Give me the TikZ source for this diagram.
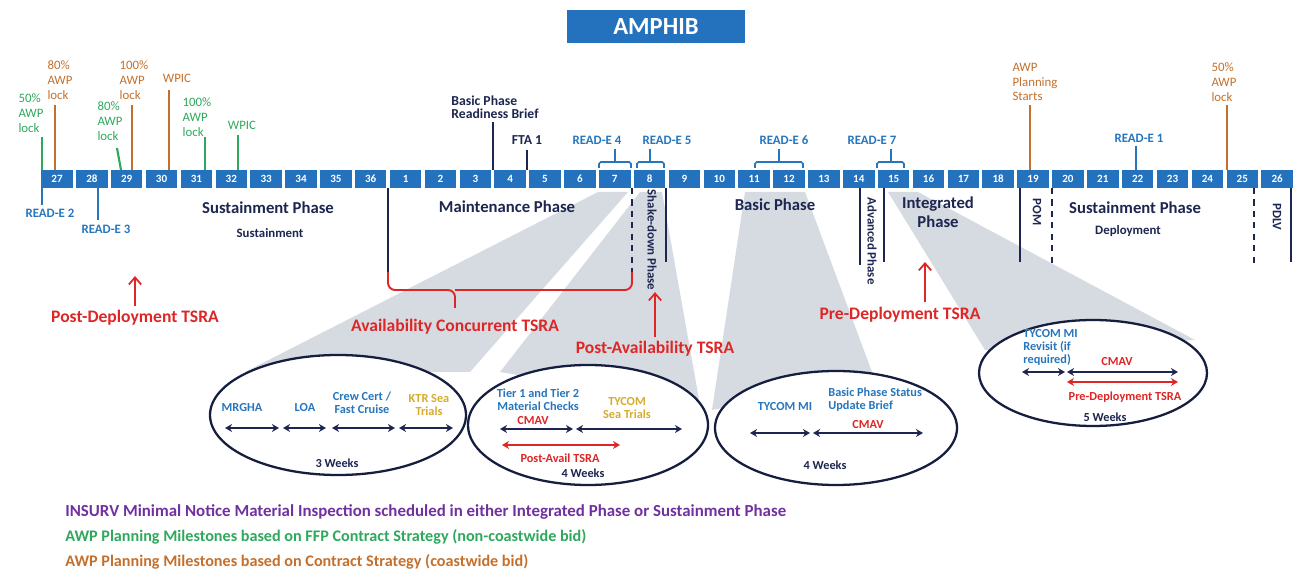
\documentclass[tikz,border=0pt]{standalone}
\usepackage{fontspec}
\setmainfont{Carlito}
\usetikzlibrary{arrows.meta}

\definecolor{boxblue}{RGB}{36,114,189}
\definecolor{navy}{RGB}{28,38,80}
\definecolor{tsrared}{RGB}{222,38,38}
\definecolor{awpgreen}{RGB}{46,168,92}
\definecolor{awporange}{RGB}{196,112,44}
\definecolor{ktrgold}{RGB}{212,172,48}
\definecolor{insurv}{RGB}{112,48,160}
\definecolor{readblue}{RGB}{38,118,190}
\definecolor{wedgegray}{RGB}{214,219,226}

\tikzset{
  numbox/.style = {fill = boxblue, text = white, font = \bfseries\fontsize{6.3}{7}\selectfont,
    minimum width = 0.63cm, minimum height = 0.36cm, inner sep = 0pt},
  greentxt/.style = {text = awpgreen, font = \fontsize{7.3}{8.5}\selectfont, align = left, inner sep = 0pt},
  orangetxt/.style = {text = awporange, font = \fontsize{7.3}{8.5}\selectfont, align = left, inner sep = 0pt},
  readtxt/.style = {text = readblue, font = \bfseries\fontsize{7.3}{8.5}\selectfont, inner sep = 0pt},
  navytxt/.style = {text = navy, font = \bfseries\fontsize{7.8}{7.6}\selectfont, align = left, inner sep = 0pt},
  phasetxt/.style = {text = navy, font = \bfseries\fontsize{9.5}{11}\selectfont, align = center, inner sep = 0pt},
  smalltxt/.style = {text = navy, font = \bfseries\fontsize{7.3}{8.5}\selectfont, align = center, inner sep = 0pt},
  redtxt/.style = {text = tsrared, font = \bfseries\fontsize{10}{12}\selectfont, inner sep = 0pt},
  intxt/.style = {font = \bfseries\fontsize{7}{7.4}\selectfont, align = center, inner sep = 0pt},
  legendtxt/.style = {font = \bfseries\fontsize{9.2}{11}\selectfont, anchor = west, inner sep = 0pt},
  phaseline/.style = {navy, line width = 1.2pt},
  phasedash/.style = {navy, line width = 1.2pt, dash pattern = on 3.5pt off 3pt},
  redarrow/.style = {tsrared, line width = 1pt, -{Straight Barb[length = 4pt, width = 7pt]}},
  spanarrow/.style = {navy, line width = 1.3pt, {Stealth[length = 4pt, width = 4.5pt]}-{Stealth[length = 4pt, width = 4.5pt]}},
  redspan/.style = {tsrared, line width = 1.3pt, {Stealth[length = 4pt, width = 4.5pt]}-{Stealth[length = 4pt, width = 4.5pt]}},
  bubble/.style = {draw = navy!80!black, line width = 1.3pt, fill = white}
}

\begin{document}
\begin{tikzpicture} [x = 0.02cm, y = -0.02cm]
\useasboundingbox (0, 0) rectangle (1294, 573);
\coordinate (bartop) at (0, 170);
\coordinate (barbot) at (0, 188);

% grey fans down to the bubbles
\fill[wedgegray] (598, 192) -- (628, 192) -- (470, 372) -- (245, 372) -- cycle;
\fill[wedgegray] (640, 192) -- (662, 192) -- (700, 405) -- (500, 372) -- cycle;
\fill[wedgegray] (745, 192) -- (805, 192) -- (875, 380) -- (712, 410) -- cycle;
\fill[wedgegray] (888, 192) -- (918, 192) -- (1195, 340) -- (985, 350) -- cycle;

% title
\fill[boxblue] (567, 10) rectangle (745, 43);
\node[text = white, font = \bfseries\fontsize{14}{16}\selectfont] (title) at (656, 27) {AMPHIB};

% month boxes
\foreach \n [count = \i from 0] in {27, 28, ..., 36, 1, 2, ..., 26}
  \node[numbox] (b\n) at (57 + \i * 34.86, 179) {\n};

% AWP milestones above the bar
\node[greentxt] (g50) at (31, 113) {50\%\\AWP\\lock};
\coordinate (tg50) at (42, 137);
\draw[awpgreen, line width = 1.2pt] (tg50) -- (tg50 |- bartop);
\node[orangetxt] (o80) at (60, 80) {80\%\\AWP\\lock};
\coordinate (to80) at (55, 105);
\draw[awporange, line width = 1.2pt] (to80) -- (to80 |- bartop);
\node[greentxt] (g80) at (110, 121) {80\%\\AWP\\lock};
\coordinate (tg80) at (117, 148);
\draw[awpgreen, line width = 1.2pt] (tg80) -- (121, 170);
\node[orangetxt] (o100) at (134, 80) {100\%\\AWP\\lock};
\coordinate (to100) at (132, 105);
\draw[awporange, line width = 1.2pt] (to100) -- (to100 |- bartop);
\node[orangetxt] (owpic) at (177, 78) {WPIC};
\coordinate (towpic) at (169, 90);
\draw[awporange, line width = 1.2pt] (towpic) -- (towpic |- bartop);
\node[greentxt] (g100) at (197, 117) {100\%\\AWP\\lock};
\coordinate (tg100) at (205, 137);
\draw[awpgreen, line width = 1.2pt] (tg100) -- (tg100 |- bartop);
\node[greentxt] (gwpic) at (242, 125) {WPIC};
\coordinate (tgwpic) at (238, 135);
\draw[awpgreen, line width = 1.2pt] (tgwpic) -- (tgwpic |- bartop);
\node[orangetxt] (oplan) at (1035, 82) {AWP\\Planning\\Starts};
\coordinate (toplan) at (1030, 105);
\draw[awporange, line width = 1.2pt] (toplan) -- (toplan |- bartop);
\node[orangetxt] (o50) at (1224, 82) {50\%\\AWP\\lock};
\coordinate (to50) at (1227, 105);
\draw[awporange, line width = 1.2pt] (to50) -- (to50 |- bartop);

% briefs and READ-E events
\node[navytxt, anchor = west] (brief) at (451, 107) {Basic Phase\\Readiness Brief};
\coordinate (tbrief) at (493, 122);
\draw[navy, line width = 1.2pt] (tbrief) -- (tbrief |- bartop);
\node[navytxt] (fta) at (527, 140) {FTA 1};
\draw[navy, line width = 1.2pt] (fta.south) ++(0, 5) -- (fta.south |- bartop);
\node[readtxt] (re4) at (597, 140) {READ-E 4};
\draw[readblue, line width = 0.9pt, rounded corners = 1pt] (599, 168) |- (631, 162) -- (631, 168);
\draw[readblue, line width = 0.9pt] (615, 162) -- (615, 149);
\node[readtxt] (re5) at (667, 140) {READ-E 5};
\draw[readblue, line width = 0.9pt, rounded corners = 1pt] (637, 168) |- (664, 162) -- (664, 168);
\draw[readblue, line width = 0.9pt] (650, 162) -- (650, 149);
\node[readtxt] (re6) at (784, 140) {READ-E 6};
\draw[readblue, line width = 0.9pt, rounded corners = 1pt] (755, 168) |- (803, 162) -- (803, 168);
\draw[readblue, line width = 0.9pt] (779, 162) -- (779, 149);
\node[readtxt] (re7) at (872, 140) {READ-E 7};
\draw[readblue, line width = 0.9pt, rounded corners = 1pt] (877, 168) |- (904, 162) -- (904, 168);
\draw[readblue, line width = 0.9pt] (891, 162) -- (891, 149);
\node[readtxt] (re1) at (1139, 138) {READ-E 1};
\draw[readblue, line width = 1.2pt] (1136, 146) -- (1136, 170);
\node[readtxt] (re2) at (50, 213) {READ-E 2};
\draw[readblue, line width = 1.2pt] (42, 170) -- (42, 205);
\node[readtxt] (re3) at (106, 229) {READ-E 3};
\draw[readblue, line width = 1.2pt] (98, 188) -- (98, 220);

% phases under the bar
\node[phasetxt] (sust) at (268, 208) {Sustainment Phase};
\node[smalltxt] (sustb) at (270, 233) {Sustainment};
\node[phasetxt] (maint) at (507, 207) {Maintenance Phase};
\node[phasetxt] (basic) at (775, 205) {Basic Phase};
\node[phasetxt] (integ) at (938, 212) {Integrated\\Phase};
\node[phasetxt] (sustd) at (1135, 208) {Sustainment Phase};
\node[smalltxt] (deploy) at (1128, 231) {Deployment};
\node[smalltxt, rotate = -90] (shake) at (652, 240) {Shake-down Phase};
\node[smalltxt, rotate = -90] (adv) at (872, 241) {Advanced Phase};
\node[smalltxt, rotate = -90] (pom) at (1037, 212) {POM};
\node[smalltxt, rotate = -90] (pdlv) at (1277, 217) {PDLV};
\draw[phaseline] (388, 188) -- (388, 272);
\draw[phasedash] (632, 188) -- (632, 272);
\draw[phaseline] (666, 188) -- (666, 262);
\draw[phaseline] (860, 188) -- (860, 265);
\draw[phaseline] (884, 188) -- (884, 262);
\draw[phaseline] (1020, 188) -- (1020, 262);
\draw[phasedash] (1052, 188) -- (1052, 265);
\draw[phasedash] (1254, 188) -- (1254, 265);
\draw[phaseline] (1291, 188) -- (1291, 262);

% TSRA callouts
\draw[tsrared, line width = 1.1pt, rounded corners = 4pt] (388, 272) |- (455, 290) -- (455, 308);
\draw[tsrared, line width = 1.1pt, rounded corners = 4pt] (455, 290) -| (632, 272);
\node[redtxt] (acon) at (455, 327) {Availability Concurrent TSRA};
\node[redtxt] (pdep) at (135, 318) {Post-Deployment TSRA};
\draw[redarrow] (pdep.north) ++(0, -4) -- ++(0, -30);
\node[redtxt] (pavl) at (655, 349) {Post-Availability TSRA};
\draw[redarrow] (pavl.north) ++(0, -4) -- ++(0, -45);
\node[redtxt] (prdep) at (900, 315) {Pre-Deployment TSRA};
\draw[redarrow] (925, 302) -- (925, 262);

% bubble 1: 3 weeks
\draw[bubble] (338, 415) ellipse [x radius = 128, y radius = 60];
\node[intxt, text = readblue] (mrgha) at (242, 408) {MRGHA};
\node[intxt, text = readblue] (loa) at (305, 408) {LOA};
\node[intxt, text = readblue] (crew) at (362, 403) {Crew Cert /\\Fast Cruise};
\node[intxt, text = ktrgold] (ktr) at (429, 405) {KTR Sea\\Trials};
\draw[spanarrow] (225, 428) -- (279, 428);
\draw[spanarrow] (283, 428) -- (326, 428);
\draw[spanarrow] (332, 428) -- (395, 428);
\draw[spanarrow] (399, 428) -- (453, 428);
\node[intxt, text = navy] (w3) at (337, 463) {3 Weeks};

% bubble 2: 4 weeks
\draw[bubble] (588, 425) ellipse [x radius = 120, y radius = 60];
\node[intxt, text = readblue] (tier) at (538, 400) {Tier 1 and Tier 2\\Material Checks};
\node[intxt, text = tsrared] (cmav2) at (533, 421) {CMAV};
\node[intxt, text = ktrgold] (tsea) at (627, 408) {TYCOM\\Sea Trials};
\draw[spanarrow] (500, 429) -- (573, 429);
\draw[spanarrow] (576, 429) -- (682, 429);
\draw[redspan] (502, 445) -- (620, 445);
\node[intxt, text = tsrared] (pavail) at (560, 458) {Post-Avail TSRA};
\node[intxt, text = navy] (w4a) at (583, 473) {4 Weeks};

% bubble 3: 4 weeks
\draw[bubble] (836, 428) ellipse [x radius = 121, y radius = 57];
\node[intxt, text = readblue] (tmi) at (785, 407) {TYCOM MI};
\node[intxt, text = readblue, anchor = west, align = left] (bstat) at (828, 400) {Basic Phase Status\\Update Brief};
\node[intxt, text = tsrared] (cmav3) at (868, 425) {CMAV};
\draw[spanarrow] (750, 433) -- (810, 433);
\draw[spanarrow] (813, 433) -- (923, 433);
\node[intxt, text = navy] (w4b) at (825, 465) {4 Weeks};

% bubble 4: 5 weeks
\draw[bubble] (1093, 373) ellipse [x radius = 114, y radius = 53];
\node[intxt, text = readblue, anchor = north west, align = left] (trev) at (1023, 329) {TYCOM MI\\Revisit (if\\required)};
\node[intxt, text = tsrared] (cmav4) at (1117, 362) {CMAV};
\draw[spanarrow] (1022, 372) -- (1065, 372);
\draw[spanarrow] (1067, 372) -- (1178, 372);
\draw[redspan] (1067, 382) -- (1178, 382);
\node[intxt, text = tsrared] (pdtsra) at (1125, 397) {Pre-Deployment TSRA};
\node[intxt, text = navy] (w5) at (1105, 417) {5 Weeks};

% legend
\node[legendtxt, text = insurv, font = \bfseries\fontsize{9.6}{11}\selectfont] (leg1) at (65, 512) {INSURV Minimal Notice Material Inspection scheduled in either Integrated Phase or Sustainment Phase};
\node[legendtxt, text = awpgreen] (leg2) at (65, 537) {AWP Planning Milestones based on FFP Contract Strategy (non-coastwide bid)};
\node[legendtxt, text = awporange] (leg3) at (65, 562) {AWP Planning Milestones based on Contract Strategy (coastwide bid)};
\end{tikzpicture}
\end{document}
